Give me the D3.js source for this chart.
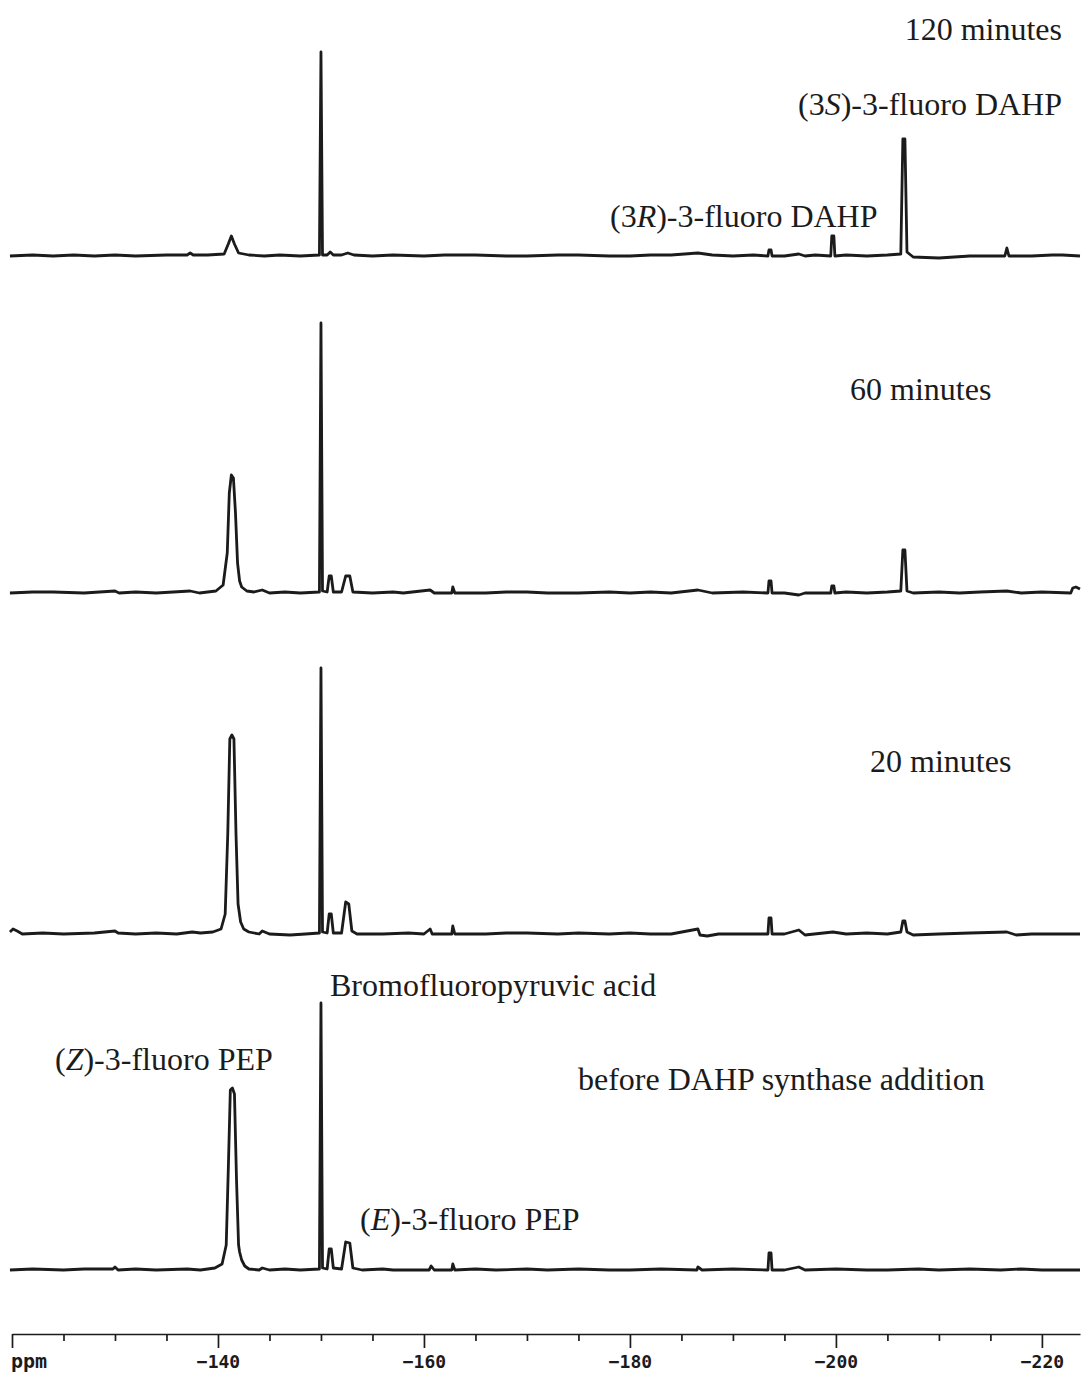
<!DOCTYPE html>
<html>
<head>
<meta charset="utf-8">
<script src="https://cdn.jsdelivr.net/npm/d3@7"></script>
<style>
  body { margin: 0; background: #fff; }
  svg { display: block; }
  .trace { fill: none; stroke: #1b1b1b; stroke-width: 2.8; stroke-linejoin: round; }
  .lbl { font-family: "Liberation Serif", "Times New Roman", serif; font-size: 32px; fill: #1b1b1b; }
  .axis text { font-family: "DejaVu Sans Mono", monospace; font-weight: bold; font-size: 18px; fill: #1b1b1b; }
  .axis path, .axis line { stroke: #1b1b1b; stroke-width: 1.7; }
</style>
</head>
<body>
<div id="chart"></div>
<script>
// ppm range of the 19F spectra and the scale ticks
const ppmRange = [-120, -223.7];
const majorTicks = [-120, -140, -160, -180, -200, -220];
const minorTicks = [-125, -130, -135, -145, -150, -155, -165, -170, -175, -185, -190, -195, -205, -210, -215];

// [ppm, intensity] points
const trace120 = [
  [-119.8,0],[-122,1],[-124,0],[-126,1],[-128,0],[-130,1],[-132,0],[-135,1],[-137.0,1],[-137.3,3],[-137.6,1],[-139,1],
  [-140.6,2],[-141.0,12],[-141.3,20],[-141.6,12],[-142.0,3],[-143,1],[-144.5,0],[-146,1],[-148,0],
  [-149.85,1],[-150.0,204],[-150.15,1],[-150.6,1],[-150.9,4],[-151.2,1],[-152,1],[-152.6,3],[-153.2,1],
  [-155,0],[-157,1],[-160,0],[-162,1],[-165,1],[-168,0],[-170,0],[-173,1],[-175,1],[-178,0],[-180,0],
  [-182,1],[-184,1],[-186.6,3],[-188,1],[-190,0],[-192,1],
  [-193.4,0],[-193.5,6],[-193.7,6],[-193.8,0],[-195,0],[-196.4,2],[-197,0],[-198,1],
  [-199.5,0],[-199.6,20],[-199.8,20],[-199.9,0],[-201,1],[-203,0],[-205,1],
  [-206.3,2],[-206.5,117],[-206.7,117],[-206.9,4],[-207.5,-1],[-210,-2],[-213,0],
  [-216.4,0],[-216.6,8],[-216.8,0],[-219,0],[-221,1],[-222,1],[-223.7,0]
];

const trace60 = [
  [-119.8,0],[-122,1],[-124,1],[-127,0],[-130,2],[-130.4,0],[-132,1],[-134,0],[-137.3,2],[-138.2,0],[-139.8,2],
  [-140.5,8],[-140.9,40],[-141.1,100],[-141.3,118],[-141.5,115],[-141.7,80],[-141.9,30],[-142.1,12],
  [-142.3,6],[-142.8,2],[-143.5,1],[-144.3,3],[-145,0],[-146.5,1],[-148,0],
  [-149.85,1],[-150.0,270],[-150.15,2],[-150.6,1],[-150.8,17],[-151.0,17],[-151.2,1],[-152,1],
  [-152.4,17],[-152.8,17],[-153.1,1],[-155,0],[-157,1],[-158,0],[-160.6,3],[-161,0],[-162.7,0],[-162.8,6],[-163,0],
  [-166,0],[-168,1],[-170,1],[-172,0],[-175,0],[-178,1],[-180,0],[-182,1],[-184,0],[-186.6,3],[-188,0],[-191,1],
  [-193.4,0],[-193.5,12],[-193.7,12],[-193.8,0],[-195,0],[-196.4,-2],[-197,0],
  [-199.5,0],[-199.6,7],[-199.8,7],[-199.9,0],[-201,1],[-203,0],[-205,1],
  [-206.3,2],[-206.5,43],[-206.7,43],[-206.9,2],[-207.5,0],[-210,1],[-212,0],[-214,1],[-216.6,2],[-218,0],[-220,1],
  [-222.8,0],[-223.0,5],[-223.3,6],[-223.7,4]
];

const trace20 = [
  [-119.8,2],[-120.1,5],[-120.5,3],[-121,0],[-123,1],[-125,0],[-128,1],[-130.0,3],[-130.3,1],[-132,0],[-134,1],
  [-136,0],[-137.5,2],[-138.3,1],[-139.5,2],[-140.3,5],[-140.7,20],[-140.95,100],[-141.15,195],[-141.35,199],
  [-141.55,195],[-141.75,100],[-141.95,30],[-142.2,12],[-142.5,5],[-143,2],[-144,0],[-144.3,3],[-145,0],
  [-147,-1],[-148.5,0],[-149.85,1],[-150.0,266],[-150.15,2],[-150.6,1],[-150.8,20],[-151.0,20],[-151.2,1],
  [-152,1],[-152.4,32],[-152.7,30],[-153.0,3],[-153.5,0],[-156,0],[-158.5,1],[-160,0],[-160.6,5],[-160.8,0],
  [-162.7,0],[-162.8,8],[-163,0],[-166,0],[-168,1],[-170,1],[-173,0],[-175,1],[-178,0],[-180,1],[-182,0],[-184,0],
  [-186.6,5],[-186.8,-1],[-187.5,-2],[-188.6,0],[-191,0],
  [-193.4,0],[-193.5,16],[-193.7,16],[-193.8,0],[-195,0],[-196.4,4],[-197,-1],[-199.7,2],[-201,0],[-203,1],[-205,0],
  [-206.3,2],[-206.5,13],[-206.7,13],[-206.9,2],[-207.5,-1],[-210,0],[-213,1],[-216.6,2],[-217.5,-1],[-219,0],[-221,0],[-223.7,0]
];

const traceBefore = [
  [-119.8,0],[-122,1],[-125,0],[-127,1],[-129.8,1],[-130.0,3],[-130.3,0],[-132,1],[-134,0],[-137,1],[-138.3,0],[-139.7,2],
  [-140.4,6],[-140.8,25],[-141.0,100],[-141.2,180],[-141.4,182],[-141.6,176],[-141.8,90],[-142.0,25],
  [-142.1,18],[-142.3,10],[-142.6,4],[-143,1],[-144,0],[-144.3,2],[-145,0],[-146.5,1],[-148,0],
  [-149.85,1],[-150.0,267],[-150.15,2],[-150.6,1],[-150.8,21],[-151.0,21],[-151.2,2],[-152,1],
  [-152.4,28],[-152.8,27],[-153.1,2],[-154,0],[-156,1],[-157,0],[-160.5,0],[-160.7,4],[-161,0],
  [-162.7,0],[-162.8,6],[-163,0],[-165,1],[-167,0],[-170,1],[-172,0],[-175,1],[-178,0],[-180,0],[-183,1],
  [-186.5,0],[-186.6,3],[-187,0],[-190,1],
  [-193.4,0],[-193.5,17],[-193.7,17],[-193.8,0],[-195,0],[-196.4,3],[-197,0],[-200,1],[-203,0],[-205,0],
  [-208,1],[-210,0],[-213,1],[-216,0],[-218,1],[-220,0],[-223.7,0]
];

const traces = [trace120, trace60, trace20, traceBefore];

const width = 1081, height = 1376;
const baselines = [256, 593, 934, 1270];
const axisY = 1334;

const svg = d3.select("#chart").append("svg")
  .attr("width", width)
  .attr("height", height);

const x = d3.scaleLinear().domain(ppmRange).range([12, 1080]);

traces.forEach((data, i) => {
  const y = d3.scaleLinear().domain([0, 300]).range([baselines[i], baselines[i] - 300]);
  const line = d3.line()
    .x(d => x(d[0]))
    .y(d => y(d[1]));
  svg.append("path")
    .attr("class", "trace")
    .attr("d", line(data));
});

// axis: long ticks every 20 ppm, short every 5
const axisMajor = d3.axisBottom(x)
  .tickValues(majorTicks)
  .tickSize(14)
  .tickSizeOuter(0)
  .tickFormat(d => d === -120 ? "" : d3.format("d")(d).replace("-", "\u2212"));

const gAxis = svg.append("g")
  .attr("class", "axis")
  .attr("transform", `translate(0,${axisY})`)
  .call(axisMajor);

gAxis.selectAll("text").attr("y", 34).attr("dy", 0);

svg.append("g")
  .attr("class", "axis")
  .attr("transform", `translate(0,${axisY})`)
  .call(d3.axisBottom(x).tickValues(minorTicks).tickSize(7).tickSizeOuter(0).tickFormat(""))
  .select(".domain").remove();

svg.append("text")
  .attr("x", 11)
  .attr("y", axisY + 34)
  .style("font-family", "DejaVu Sans Mono, monospace")
  .style("font-weight", "bold")
  .style("font-size", "20px")
  .style("fill", "#1b1b1b")
  .text("ppm");

// labels, parts flagged true are set in italics
function addLabel(parts, px, py, anchor) {
  const t = svg.append("text")
    .attr("class", "lbl")
    .attr("x", px)
    .attr("y", py)
    .attr("text-anchor", anchor || "start");
  parts.forEach(p => {
    t.append("tspan")
      .style("font-style", p[1] ? "italic" : "normal")
      .text(p[0]);
  });
}

addLabel([["120 minutes"]], 1062, 40, "end");
addLabel([["(3"], ["S", true], [")-3-fluoro DAHP"]], 1062, 115, "end");
addLabel([["(3"], ["R", true], [")-3-fluoro DAHP"]], 610, 227);
addLabel([["60 minutes"]], 850, 400);
addLabel([["20 minutes"]], 870, 772);
addLabel([["Bromofluoropyruvic acid"]], 330, 996);
addLabel([["("], ["Z", true], [")-3-fluoro PEP"]], 55, 1070);
addLabel([["before DAHP synthase addition"]], 578, 1090);
addLabel([["("], ["E", true], [")-3-fluoro PEP"]], 360, 1230);
</script>
</body>
</html>
